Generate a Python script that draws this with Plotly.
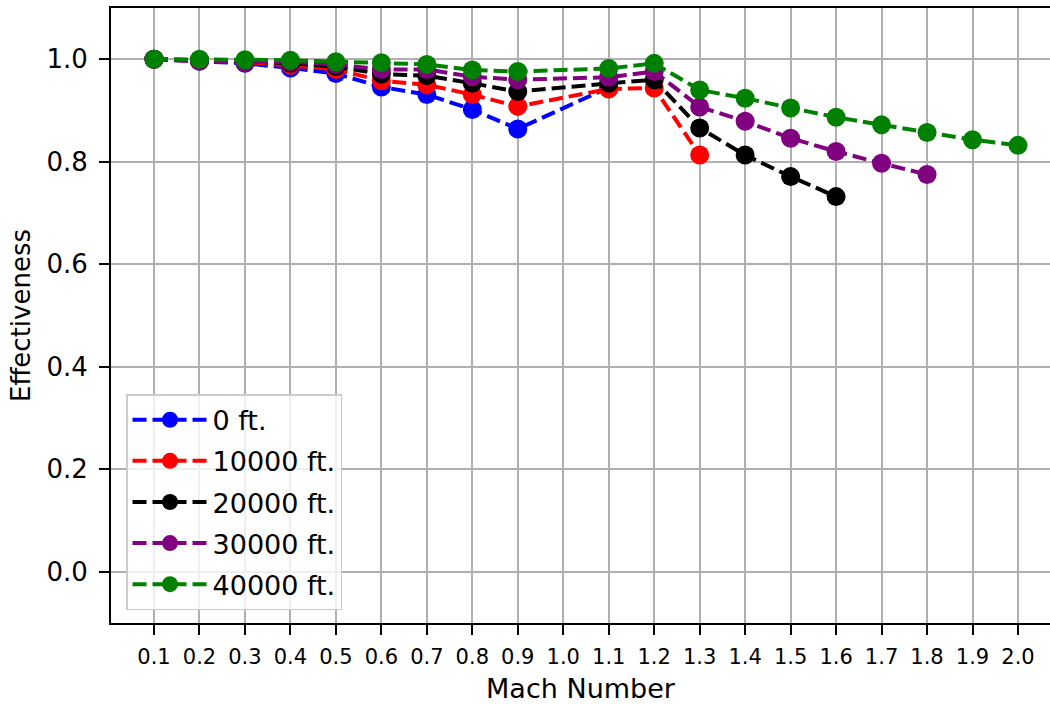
import plotly.graph_objects as go

# Mach numbers (1.0 has no data)
mach_0 = [0.1, 0.2, 0.3, 0.4, 0.5, 0.6, 0.7, 0.8, 0.9, 1.1]
eff_0 = [1.000, 0.996, 0.992, 0.983, 0.972, 0.946, 0.931, 0.902, 0.864, 0.945]

mach_10k = [0.1, 0.2, 0.3, 0.4, 0.5, 0.6, 0.7, 0.8, 0.9, 1.1, 1.2, 1.3]
eff_10k = [1.000, 0.997, 0.994, 0.988, 0.980, 0.958, 0.950, 0.931, 0.908, 0.942, 0.944, 0.813]

mach_20k = [0.1, 0.2, 0.3, 0.4, 0.5, 0.6, 0.7, 0.8, 0.9, 1.1, 1.2, 1.3, 1.4, 1.5, 1.6]
eff_20k = [1.000, 0.998, 0.996, 0.992, 0.986, 0.971, 0.968, 0.953, 0.937, 0.953, 0.960,
           0.866, 0.813, 0.771, 0.732]

mach_30k = [0.1, 0.2, 0.3, 0.4, 0.5, 0.6, 0.7, 0.8, 0.9, 1.1, 1.2, 1.3, 1.4, 1.5, 1.6, 1.7, 1.8]
eff_30k = [1.000, 0.997, 0.994, 0.995, 0.990, 0.980, 0.980, 0.966, 0.960, 0.965, 0.976,
           0.907, 0.879, 0.846, 0.820, 0.797, 0.775]

mach_40k = [0.1, 0.2, 0.3, 0.4, 0.5, 0.6, 0.7, 0.8, 0.9, 1.1, 1.2, 1.3, 1.4, 1.5, 1.6, 1.7,
            1.8, 1.9, 2.0]
eff_40k = [1.000, 1.000, 0.999, 0.998, 0.995, 0.993, 0.990, 0.979, 0.976, 0.982, 0.992,
           0.940, 0.924, 0.905, 0.887, 0.872, 0.857, 0.843, 0.832]

series_names = ["0 ft.", "10000 ft.", "20000 ft.", "30000 ft.", "40000 ft."]
series_x = [mach_0, mach_10k, mach_20k, mach_30k, mach_40k]
series_y = [eff_0, eff_10k, eff_20k, eff_30k, eff_40k]
colors = ["#0000ff", "#ff0000", "#000000", "#800080", "#008000"]

tick_vals = [0.1, 0.2, 0.3, 0.4, 0.5, 0.6, 0.7, 0.8, 0.9, 1.0,
             1.1, 1.2, 1.3, 1.4, 1.5, 1.6, 1.7, 1.8, 1.9, 2.0]
tick_text = [f"{v:.1f}" for v in tick_vals]
y_ticks = [0.0, 0.2, 0.4, 0.6, 0.8, 1.0]

fig = go.Figure()
for name, xs, ys, c in zip(series_names, series_x, series_y, colors):
    fig.add_trace(go.Scatter(
        x=xs, y=ys, name=name, mode="lines+markers", legendgroup=name,
        line=dict(color=c, width=4, dash="14px,6px"),
        marker=dict(color=c, size=19),
    ))

font_family = "DejaVu Sans"
fig.update_layout(
    width=1050, height=704,
    margin=dict(l=111, r=0, t=8, b=81),
    paper_bgcolor="white", plot_bgcolor="white",
    font=dict(family=font_family, color="black"),
    showlegend=True,
    legend=dict(
        x=0.016, y=0.372, xanchor="left", yanchor="top",
        font=dict(size=27, family=font_family),
        bgcolor="rgba(255,255,255,0.8)",
        bordercolor="#cccccc", borderwidth=1.5,
        itemwidth=75, tracegroupgap=3,
    ),
    xaxis=dict(
        range=[0.00544, 2.0704],
        tickvals=tick_vals, ticktext=tick_text,
        tickfont=dict(size=21, family=font_family),
        ticks="outside", ticklen=10, tickwidth=2, tickcolor="black",
        ticklabelstandoff=4,
        showline=True, linecolor="black", linewidth=2, mirror=True,
        showgrid=True, gridcolor="#b0b0b0", gridwidth=2,
        zeroline=False,
        title=dict(text="Mach Number", font=dict(size=27, family=font_family), standoff=12),
    ),
    yaxis=dict(
        range=[-0.1, 1.1],
        tickvals=y_ticks, ticktext=[f"{v:.1f}" for v in y_ticks],
        tickfont=dict(size=26, family=font_family),
        ticks="outside", ticklen=10, tickwidth=2, tickcolor="black",
        ticklabelstandoff=6,
        showline=True, linecolor="black", linewidth=2, mirror=False,
        showgrid=True, gridcolor="#b0b0b0", gridwidth=2,
        zeroline=False,
        title=dict(text="Effectiveness", font=dict(size=26, family=font_family), standoff=8),
    ),
)

fig.write_html("out.html")
